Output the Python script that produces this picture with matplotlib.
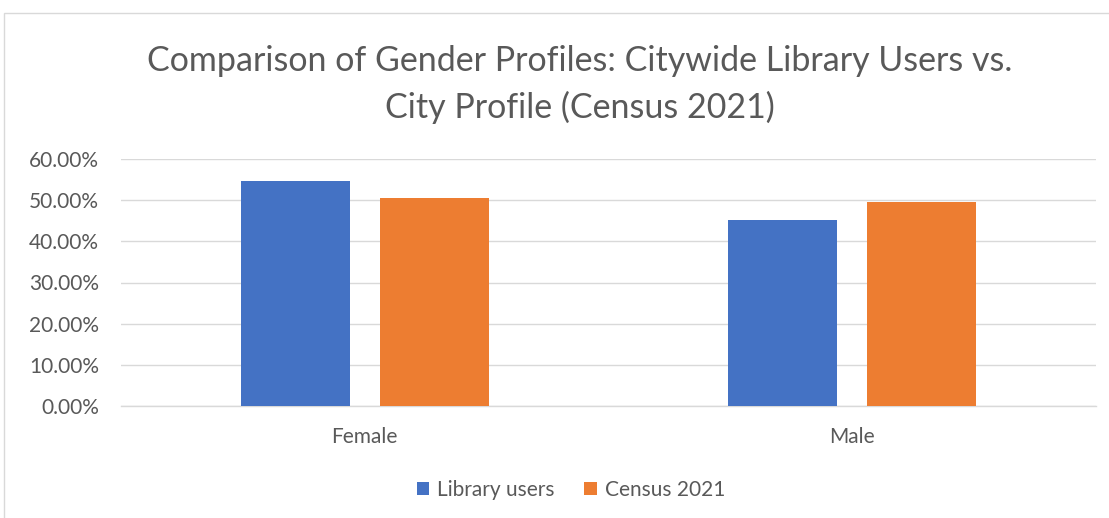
import matplotlib
matplotlib.use("Agg")
import matplotlib.pyplot as plt
from matplotlib.patches import Rectangle, Patch
from matplotlib.ticker import FuncFormatter
import numpy as np

categories = ["Female", "Male"]
series_names = ["Library users", "Census 2021"]
library_users = [0.547, 0.452]
census_2021 = [0.505, 0.495]
yticks = [0.0, 0.1, 0.2, 0.3, 0.4, 0.5, 0.6]

colors = ["#4472C4", "#ED7D31"]
text_color = "#595959"
grid_color = "#D9D9D9"
font = "Lato"

W, H = 1109, 518
fig = plt.figure(figsize=(W / 100, H / 100), dpi=100)

# chart border
fig.patches.append(Rectangle((4 / W, -0.1), 1.2, (H - 13) / H + 0.1,
                             transform=fig.transFigure, fill=False,
                             edgecolor="#D9D9D9", linewidth=1.0))

ax = fig.add_axes([121 / W, (H - 406) / H, (1096 - 121) / W, 247 / H])
x = np.arange(len(categories))
bw = 0.224
off = 0.1426
ax.bar(x - off, library_users, bw, color=colors[0], zorder=3)
ax.bar(x + off, census_2021, bw, color=colors[1], zorder=3)

ax.set_xlim(-0.5, 1.5)
ax.set_ylim(0, 0.6)
ax.set_yticks(yticks)
ax.yaxis.set_major_formatter(FuncFormatter(lambda v, p: f"{v*100:.2f}%"))
ax.set_xticks(x)
ax.set_xticklabels(categories)
ax.grid(axis="y", color=grid_color, linewidth=1.0, zorder=0)
for s in ["top", "right", "left"]:
    ax.spines[s].set_visible(False)
ax.spines["bottom"].set_color(grid_color)
ax.spines["bottom"].set_linewidth(1.0)
ax.tick_params(axis="both", length=0, labelcolor=text_color, labelsize=15)
ax.tick_params(axis="y", pad=16)
ax.tick_params(axis="x", pad=15)
for lab in ax.get_xticklabels() + ax.get_yticklabels():
    lab.set_family(font)

fig.text(580 / W, (H - 61) / H, "Comparison of Gender Profiles: Citywide Library Users vs.",
         ha="center", va="center", fontsize=24.5, color=text_color, family=font)
fig.text(580 / W, (H - 107) / H, "City Profile (Census 2021)",
         ha="center", va="center", fontsize=24.5, color=text_color, family=font)

handles = [Patch(facecolor=colors[0]), Patch(facecolor=colors[1])]
fig.legend(handles, series_names, loc="center", bbox_to_anchor=(571 / W, (H - 490) / H),
           ncol=2, frameon=False, handlelength=0.6, handleheight=0.6,
           handletextpad=0.4, columnspacing=1.4,
           prop={"family": font, "size": 15}, labelcolor=text_color)

fig.savefig("out.png", dpi=100)
